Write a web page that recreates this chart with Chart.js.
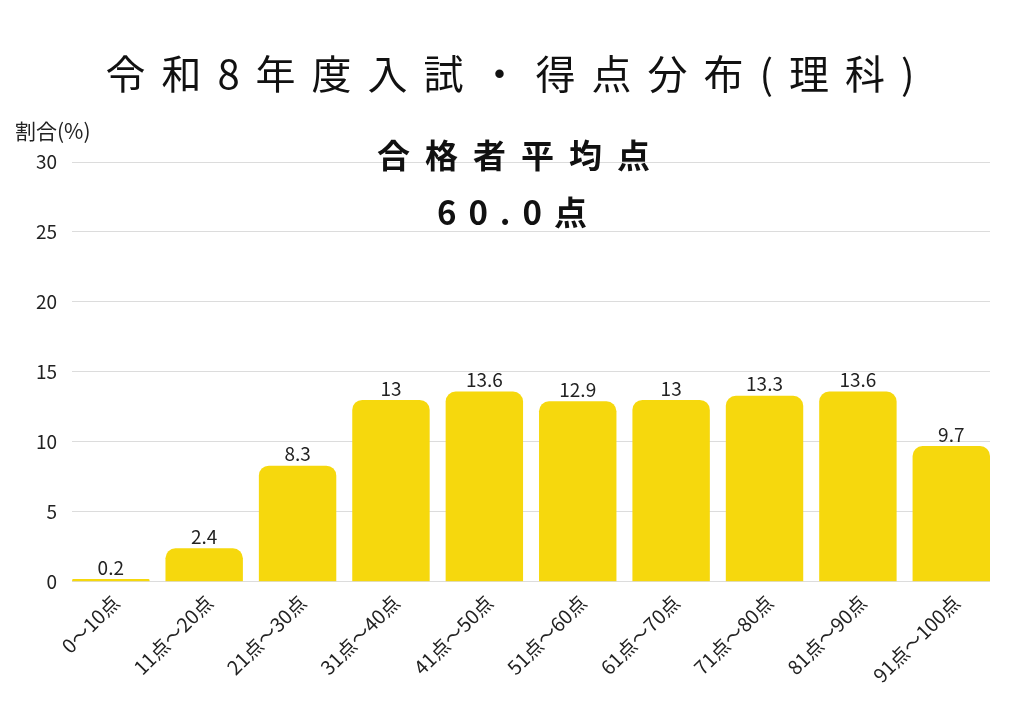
<!DOCTYPE html>
<html lang="ja">
<head>
<meta charset="UTF-8">
<title>得点分布(理科)</title>
<script src="https://cdn.jsdelivr.net/npm/chart.js"></script>
<style>
  html, body { margin: 0; padding: 0; background: #fff; }
  #wrap { width: 1024px; height: 724px; }
</style>
</head>
<body>
<div id="wrap"><canvas id="scoreChart"></canvas></div>
<script>
// data
const categories = ['0〜10点', '11点〜20点', '21点〜30点', '31点〜40点', '41点〜50点',
                    '51点〜60点', '61点〜70点', '71点〜80点', '81点〜90点', '91点〜100点'];
const shares = [0.2, 2.4, 8.3, 13, 13.6, 12.9, 13, 13.3, 13.6, 9.7];
const yTicks = [0, 5, 10, 15, 20, 25, 30];

const mainTitle = '令和8年度入試・得点分布(理科)';
const avgLabel = '合格者平均点';
const avgValue = '60.0点';
const yLabel = '割合(%)';

const FONT = '"Noto Sans CJK JP", "Noto Sans", sans-serif';
// bars fill the plot edge to edge: share of each slot taken by the bar
const BAR_SHARE = 0.829;

// titles, axis caption and value labels
const textPlugin = {
  id: 'texts',
  afterDatasetsDraw(chart) {
    const ctx = chart.ctx;
    const meta = chart.getDatasetMeta(0);

    ctx.save();
    ctx.fillStyle = '#222';
    ctx.font = '19px ' + FONT;
    ctx.textAlign = 'center';
    ctx.textBaseline = 'bottom';
    meta.data.forEach((bar, i) => {
      ctx.fillText(String(shares[i]), bar.x, bar.y - 2);
    });
    ctx.restore();
  },
  afterDraw(chart) {
    const ctx = chart.ctx;
    const mid = chart.width / 2;

    ctx.save();
    ctx.fillStyle = '#111';
    ctx.textAlign = 'center';
    ctx.textBaseline = 'alphabetic';

    ctx.font = '400 40px ' + FONT;
    ctx.letterSpacing = '16px';
    ctx.fillText(mainTitle, mid + 6, 89);

    ctx.font = 'bold 33px ' + FONT;
    ctx.letterSpacing = '15px';
    ctx.fillText(avgLabel, mid + 9, 168);
    ctx.letterSpacing = '12px';
    ctx.fillText(avgValue, mid + 6, 225);

    ctx.letterSpacing = '0px';
    ctx.font = '21px ' + FONT;
    ctx.textAlign = 'left';
    ctx.textBaseline = 'middle';
    ctx.fillStyle = '#222';
    ctx.fillText(yLabel, 15, 131);
    ctx.restore();
  }
};

new Chart(document.getElementById('scoreChart'), {
  type: 'bar',
  data: {
    datasets: [{
      data: shares.map((v, i) => ({ x: i, y: v })),
      backgroundColor: '#F6D80D',
      borderRadius: { topLeft: 10, topRight: 10 },
      borderSkipped: 'bottom',
      categoryPercentage: 1,
      barPercentage: BAR_SHARE
    }]
  },
  options: {
    responsive: true,
    maintainAspectRatio: false,
    animation: false,
    layout: { padding: { top: 162, left: 21, right: 34, bottom: 36 } },
    plugins: {
      legend: { display: false },
      tooltip: { enabled: false }
    },
    scales: {
      x: {
        type: 'linear',
        offset: false,
        min: -BAR_SHARE / 2,
        max: categories.length - 1 + BAR_SHARE / 2,
        afterBuildTicks(scale) {
          scale.ticks = categories.map((c, i) => ({ value: i }));
        },
        grid: { display: false },
        border: { display: false },
        ticks: {
          color: '#222',
          font: { family: FONT, size: 19.5 },
          maxRotation: 45,
          minRotation: 45,
          padding: 1,
          labelOffset: 5,
          callback: (v) => categories[v]
        }
      },
      y: {
        min: 0,
        max: 30,
        afterBuildTicks(scale) {
          scale.ticks = yTicks.map(v => ({ value: v }));
        },
        grid: { color: '#dcdcdc', lineWidth: 1, drawTicks: false },
        border: { display: false },
        ticks: {
          color: '#222',
          font: { family: FONT, size: 19 },
          padding: 15
        }
      }
    }
  },
  plugins: [textPlugin]
});
</script>
</body>
</html>
